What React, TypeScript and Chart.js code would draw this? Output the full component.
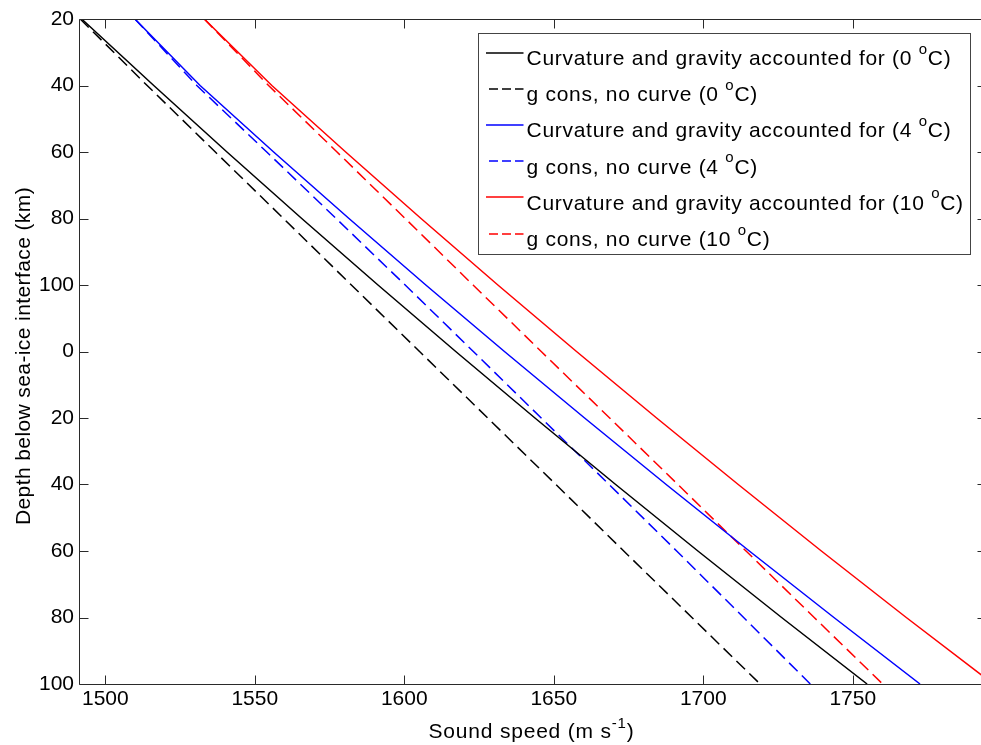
import React, { useEffect, useRef } from "react";
import { Chart, registerables } from "chart.js";

Chart.register(...registerables);

// ---- data ----
const depthKm = [20, 40, 60, 80, 100, 120, 140, 160, 180, 200, 220];
const depthTicks = [20, 40, 60, 80, 100, 120, 140, 160, 180, 200, 220];
const depthTickLabels = ["20", "40", "60", "80", "100", "0", "20", "40", "60", "80", "100"];
const speedTicks = [1500, 1550, 1600, 1650, 1700, 1750];
const speedMin = 1491.2;
const speedMax = 1794.9;

const curved0C = [1492.1, 1516.2, 1540.7, 1565.7, 1591.2, 1617.2, 1643.7, 1670.7, 1698.2, 1726.2, 1754.8];
const flat0C = [1491.6, 1514.0, 1536.8, 1559.6, 1582.3, 1605.1, 1627.9, 1650.7, 1673.4, 1696.2, 1719.0];
const curved4C = [1509.9, 1531.7, 1556.3, 1581.5, 1607.2, 1633.5, 1660.3, 1687.6, 1715.4, 1743.7, 1772.5];
const flat4C = [1509.9, 1530.6, 1554.0, 1577.2, 1600.3, 1623.1, 1645.8, 1668.5, 1691.1, 1713.5, 1735.8];
const curved10C = [1533.1, 1555.7, 1580.4, 1605.6, 1631.3, 1657.6, 1684.4, 1711.7, 1739.5, 1767.9, 1797.0];
const flat10C = [1533.1, 1554.6, 1577.5, 1600.3, 1623.0, 1645.8, 1668.7, 1691.5, 1714.3, 1737.1, 1760.0];

// legend labels: [text before superscript, superscript, text after]
const seriesLabels = [
  ["Curvature and gravity accounted for (0 ", "o", "C)"],
  ["g cons, no curve (0 ", "o", "C)"],
  ["Curvature and gravity accounted for (4 ", "o", "C)"],
  ["g cons, no curve (4 ", "o", "C)"],
  ["Curvature and gravity accounted for (10 ", "o", "C)"],
  ["g cons, no curve (10 ", "o", "C)"],
];
const seriesValues = [curved0C, flat0C, curved4C, flat4C, curved10C, flat10C];
const seriesColors = ["#000000", "#000000", "#0000ff", "#0000ff", "#ff0000", "#ff0000"];
const seriesDashed = [false, true, false, true, false, true];

const xTitleParts = ["Sound speed (m s", "-1", ")"];
const yTitle = "Depth below sea-ice interface (km)";

const FONT = '"Liberation Sans", Arial, Helvetica, sans-serif';
const AXIS_COLOR = "#2a2a2a";

function setSpacing(ctx: any, sp: string) {
  try {
    ctx.letterSpacing = sp;
  } catch (e) {
    /* ignore */
  }
}

function drawSupText(ctx: CanvasRenderingContext2D, x: number, y: number, parts: string[], size: number, supSize: number, supRise: number, sp: string) {
  ctx.textBaseline = "alphabetic";
  ctx.textAlign = "left";
  setSpacing(ctx, sp);
  ctx.font = `${size}px ${FONT}`;
  ctx.fillText(parts[0], x, y);
  let cx = x + ctx.measureText(parts[0]).width;
  ctx.font = `${supSize}px ${FONT}`;
  ctx.fillText(parts[1], cx, y - supRise);
  cx += ctx.measureText(parts[1]).width;
  ctx.font = `${size}px ${FONT}`;
  ctx.fillText(parts[2], cx, y);
  setSpacing(ctx, "0px");
}

function supTextWidth(ctx: CanvasRenderingContext2D, parts: string[], size: number, supSize: number, sp: string) {
  setSpacing(ctx, sp);
  ctx.font = `${size}px ${FONT}`;
  let w = ctx.measureText(parts[0]).width + ctx.measureText(parts[2]).width;
  ctx.font = `${supSize}px ${FONT}`;
  w += ctx.measureText(parts[1]).width;
  setSpacing(ctx, "0px");
  return w;
}

const framePlugin = {
  id: "matlabFrame",
  afterDraw(chart: any) {
    const ctx: CanvasRenderingContext2D = chart.ctx;
    const { left, right, top, bottom } = chart.chartArea;
    const xs = chart.scales.x;
    const ys = chart.scales.y;
    ctx.save();
    ctx.strokeStyle = AXIS_COLOR;
    ctx.lineWidth = 1;
    const L = Math.round(left) + 0.5;
    const R = Math.round(right) - 0.5;
    const T = Math.round(top) + 0.5;
    const B = Math.round(bottom) + 0.5;
    ctx.beginPath();
    ctx.moveTo(L, T);
    ctx.lineTo(R, T);
    ctx.lineTo(R, B);
    ctx.lineTo(L, B);
    ctx.closePath();
    ctx.stroke();
    const TL = 9;
    ctx.beginPath();
    for (const v of speedTicks) {
      const px = Math.round(xs.getPixelForValue(v)) + 0.5;
      ctx.moveTo(px, B);
      ctx.lineTo(px, B - TL);
      ctx.moveTo(px, T);
      ctx.lineTo(px, T + TL);
    }
    for (const v of depthTicks) {
      const py = Math.round(ys.getPixelForValue(v)) + 0.5;
      ctx.moveTo(L, py);
      ctx.lineTo(L + TL, py);
      ctx.moveTo(R, py);
      ctx.lineTo(R - TL, py);
    }
    ctx.stroke();

    // axis titles
    ctx.fillStyle = "#000";
    const xsp = "0.8px";
    const tw = supTextWidth(ctx, xTitleParts, 21, 15, xsp);
    const cx = 531.5;
    drawSupText(ctx, cx - tw / 2, 738, xTitleParts, 21, 15, 10, xsp);

    ctx.save();
    ctx.translate(29.5, 356);
    ctx.rotate(-Math.PI / 2);
    setSpacing(ctx, "0.4px");
    ctx.font = `21px ${FONT}`;
    ctx.textAlign = "center";
    ctx.textBaseline = "alphabetic";
    ctx.fillText(yTitle, 0, 0);
    setSpacing(ctx, "0px");
    ctx.restore();

    // legend
    const boxL = 478.5, boxT = 33.5, boxR = 970.5, boxB = 254.5;
    ctx.fillStyle = "#fff";
    ctx.fillRect(boxL, boxT, boxR - boxL, boxB - boxT);
    ctx.strokeStyle = "#444";
    ctx.lineWidth = 1;
    ctx.strokeRect(boxL, boxT, boxR - boxL, boxB - boxT);
    const rowH = 36.2;
    seriesLabels.forEach((parts, i) => {
      const ly = 52.5 + i * rowH;
      ctx.save();
      ctx.strokeStyle = seriesColors[i];
      ctx.lineWidth = 1.5;
      if (seriesDashed[i]) ctx.setLineDash([9, 4]);
      ctx.beginPath();
      ctx.moveTo(seriesDashed[i] ? 489 : 486, Math.round(ly));
      ctx.lineTo(523.5, Math.round(ly));
      ctx.stroke();
      ctx.restore();
      ctx.fillStyle = "#000";
      drawSupText(ctx, 526.5, 65 + i * rowH, parts, 21, 15, 11.5, "0.72px");
    });
    ctx.restore();
  },
};

export default function App() {
  const canvasRef = useRef<HTMLCanvasElement | null>(null);

  useEffect(() => {
    const canvas = canvasRef.current;
    if (!canvas) return;
    const datasets = seriesValues.map((vals, i) => ({
      label: seriesLabels[i].join(""),
      data: vals.map((s, k) => ({ x: s, y: depthKm[k] })),
      borderColor: seriesColors[i],
      backgroundColor: seriesColors[i],
      borderWidth: 1.5,
      borderDash: seriesDashed[i] ? [12, 6] : [],
      pointRadius: 0,
      showLine: true,
      fill: false,
      tension: 0,
    }));
    const chart = new Chart(canvas, {
      type: "scatter",
      data: { datasets },
      options: {
        responsive: false,
        animation: false,
        devicePixelRatio: 1,
        layout: { padding: { top: 19, right: 3, bottom: 0, left: 0 } },
        plugins: {
          legend: { display: false },
          tooltip: { enabled: false },
          title: { display: false },
        },
        scales: {
          x: {
            type: "linear",
            min: speedMin,
            max: speedMax,
            grid: { display: false, drawTicks: false },
            border: { display: false },
            afterBuildTicks: (s: any) => {
              s.ticks = speedTicks.map((v) => ({ value: v }));
            },
            afterFit: (s: any) => {
              s.height = 61;
            },
            ticks: {
              color: "#000",
              padding: 3,
              maxRotation: 0,
              autoSkip: false,
              font: { family: FONT, size: 21 },
              callback: (v: any) => String(v),
            },
          },
          y: {
            type: "linear",
            reverse: true,
            min: 20,
            max: 220,
            grid: { display: false, drawTicks: false },
            border: { display: false },
            afterBuildTicks: (s: any) => {
              s.ticks = depthTicks.map((v) => ({ value: v }));
            },
            afterFit: (s: any) => {
              s.width = 79;
            },
            ticks: {
              color: "#000",
              padding: 5,
              autoSkip: false,
              font: { family: FONT, size: 21 },
              callback: (v: any) => {
                const idx = depthTicks.indexOf(Number(v));
                return idx >= 0 ? depthTickLabels[idx] : "";
              },
            },
          },
        },
      },
      plugins: [framePlugin],
    });
    return () => chart.destroy();
  }, []);

  return (
    <div style={{ position: "fixed", left: 0, top: 0, width: 990, height: 745, background: "#fff" }}>
      <canvas ref={canvasRef} width={990} height={745} style={{ display: "block" }} />
    </div>
  );
}
